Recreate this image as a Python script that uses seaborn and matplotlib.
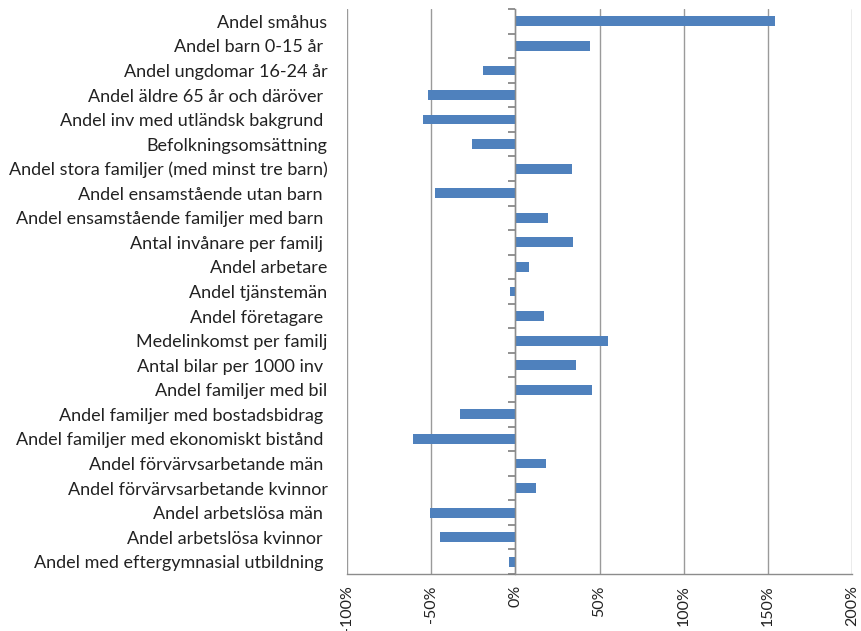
import matplotlib
matplotlib.use("Agg")
import matplotlib.pyplot as plt
import matplotlib.ticker as mticker
import seaborn as sns
import pandas as pd

categories = [
    "Andel småhus",
    "Andel barn 0-15 år ",
    "Andel ungdomar 16-24 år",
    "Andel äldre 65 år och däröver ",
    "Andel inv med utländsk bakgrund ",
    "Befolkningsomsättning",
    "Andel stora familjer (med minst tre barn)",
    "Andel ensamstående utan barn ",
    "Andel ensamstående familjer med barn ",
    "Antal invånare per familj ",
    "Andel arbetare",
    "Andel tjänstemän",
    "Andel företagare ",
    "Medelinkomst per familj",
    "Antal bilar per 1000 inv ",
    "Andel familjer med bil",
    "Andel familjer med bostadsbidrag ",
    "Andel familjer med ekonomiskt bistånd ",
    "Andel förvärvsarbetande män ",
    "Andel förvärvsarbetande kvinnor",
    "Andel arbetslösa män ",
    "Andel arbetslösa kvinnor ",
    "Andel med eftergymnasial utbildning ",
]
values = [154, 44.5, -19.5, -52, -55, -26, 33.5, -48, 19.5, 34.5, 8, -3, 17,
          55, 36, 45.5, -33, -61, 18, 12, -51, -45, -4]
x_ticks = [-100, -50, 0, 50, 100, 150, 200]

df = pd.DataFrame({"kategori": categories, "andel": values})

sns.set_style("white")
plt.rcParams["font.family"] = ["Lato", "DejaVu Sans"]

fig = plt.figure(figsize=(8.62, 6.31), dpi=100)
ax = fig.add_axes([0.4026, 0.0903, 0.5858, 0.8954])

sns.barplot(data=df, x="andel", y="kategori", orient="h", color="#4F81BD",
            width=0.4, saturation=1, linewidth=0, ax=ax, zorder=3)

ax.set_xlim(x_ticks[0], x_ticks[-1])
ax.set_ylim(len(categories) - 0.5, -0.5)
ax.set_xticks(x_ticks)
ax.xaxis.set_major_formatter(mticker.FuncFormatter(lambda v, p: f"{v:.0f}%"))
ax.tick_params(axis="x", direction="out", length=5, width=1, color="#8c8c8c",
               labelsize=11.5, labelcolor="#222222", pad=3, labelrotation=90)
for lab in ax.get_xticklabels():
    lab.set_verticalalignment("top")

ax.tick_params(axis="y", length=0, labelsize=13, labelcolor="#222222", pad=14)
ax.set_xlabel("")
ax.set_ylabel("")

ax.grid(axis="x", color="#9a9a9a", linewidth=1, zorder=0)
ax.grid(axis="y", visible=False)
for side in ["top", "left", "right"]:
    ax.spines[side].set_visible(False)
ax.spines["bottom"].set_color("#8c8c8c")
ax.spines["bottom"].set_linewidth(1)

# category axis crossing at 0% with tick marks between the categories
zero_pos = (0 - x_ticks[0]) / (x_ticks[-1] - x_ticks[0])
sec = ax.secondary_yaxis(zero_pos)
sec.set_zorder(6)
sec.yaxis.set_ticks_position("left")
sec.set_yticks([i - 0.5 for i in range(len(categories) + 1)])
sec.set_yticklabels([])
sec.tick_params(axis="y", which="major", direction="out", length=5, width=1.2,
                color="#7f7f7f", left=True, right=False)
sec.spines["left"].set_color("#8c8c8c")
sec.spines["left"].set_linewidth(1)

fig.savefig("out.png", dpi=100, facecolor="white")
